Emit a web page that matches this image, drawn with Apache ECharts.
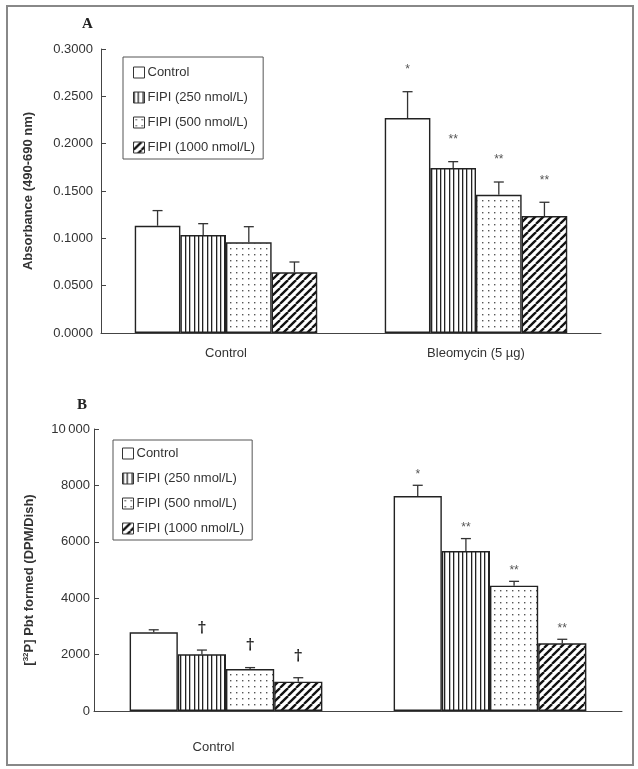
<!DOCTYPE html>
<html><head><meta charset="utf-8">
<style>html,body{margin:0;padding:0;background:#fff}#c{width:638px;height:769px}</style>
<script src="https://cdn.jsdelivr.net/npm/echarts@6/dist/echarts.min.js"></script>
</head><body><div id="c"></div>
<script>
// ---- data ----
const categories = ['Control', 'Bleomycin (5 µg)'];
const groups = ['Control', 'FIPI (250 nmol/L)', 'FIPI (500 nmol/L)', 'FIPI (1000 nmol/L)'];
// Panel A: absorbance, per group: [Control category, Bleomycin category]
const absMean = [[0.1133, 0.2271], [0.1035, 0.1743], [0.0958, 0.1460], [0.0641, 0.1236]];
const absErr  = [[0.0160, 0.0278], [0.0120, 0.0067], [0.0165, 0.0135], [0.0109, 0.0145]];
const absMark = [['', '*'], ['', '**'], ['', '**'], ['', '**']];
const absTicks = [0, 0.05, 0.10, 0.15, 0.20, 0.25, 0.30];
// Panel B: [32P] Pbt formed (DPM/Dish)
const pbtMean = [[2790, 7624], [2011, 5674], [1489, 4443], [1040, 2400]];
const pbtErr  = [[90, 380], [150, 440], [50, 155], [140, 143]];
const pbtMark = [['', '*'], ['†', '**'], ['†', '**'], ['†', '**']];
const pbtTicks = [0, 2000, 4000, 6000, 8000, 10000];

// ---- patterns ----
function tile(w, h, draw) {
  const c = document.createElement('canvas'); c.width = w; c.height = h;
  const ctx = c.getContext('2d'); ctx.fillStyle = '#fff'; ctx.fillRect(0, 0, w, h);
  draw(ctx); return c;
}
const patWhite = '#ffffff';
const patVert = tile(22, 4, ctx => {
  ctx.fillStyle = '#222';
  for (let i = 0; i < 5; i++) ctx.fillRect(Math.round(i * 4.4), 0, 1.3, 4);
});
const patDot = tile(6, 6, ctx => { ctx.fillStyle = '#555'; ctx.fillRect(2, 2, 1.4, 1.4); });
const patDiag = tile(8, 8, ctx => {
  ctx.strokeStyle = '#111'; ctx.lineWidth = 2.3;
  [[-8, 8, 0, 0], [0, 8, 8, 0], [8, 8, 16, 0]].forEach(l => {
    ctx.beginPath(); ctx.moveTo(l[0], l[1]); ctx.lineTo(l[2], l[3]); ctx.stroke();
  });
});
const fills = [patWhite, { image: patVert, repeat: 'repeat' }, { image: patDot, repeat: 'repeat' }, { image: patDiag, repeat: 'repeat' }];

const GAP = 0.27;
const font = "'Liberation Sans', Arial, sans-serif";

function errorSeries(gridIdx, k, means, errs, marks, opts) {
  return {
    type: 'custom', xAxisIndex: gridIdx, yAxisIndex: gridIdx, z: 5, silent: true,
    data: categories.map((c, i) => [i, means[k][i], errs[k][i]]),
    renderItem: function (params, api) {
      const x = api.value(0), m = api.value(1), e = api.value(2);
      const base = api.coord([x, m]);
      const top = api.coord([x, m + e]);
      const band = api.size([1, 0])[0];
      const bw = band * (1 - GAP) / 4;
      const cx = base[0] + (k - 1.5) * bw;
      const mark = marks[k][params.dataIndex];
      const ch = [
        { type: 'line', shape: { x1: cx, y1: base[1], x2: cx, y2: top[1] }, style: { stroke: '#333', lineWidth: 1.3 } },
        { type: 'line', shape: { x1: cx - opts.cap, y1: top[1], x2: cx + opts.cap, y2: top[1] }, style: { stroke: '#333', lineWidth: 1.3 } }
      ];
      if (mark) {
        const dag = mark === '†';
        ch.push({ type: 'text', style: {
          text: mark, x: cx, y: top[1] - (dag ? opts.dagOff : opts.starOff),
          align: 'center', verticalAlign: 'middle',
          font: dag ? "bold 15px 'DejaVu Serif', serif" : "12px " + font,
          fill: dag ? '#111' : '#555'
        } });
      }
      return { type: 'group', children: ch };
    }
  };
}

const series = [];
groups.forEach((g, k) => {
  series.push({ name: g, type: 'bar', xAxisIndex: 0, yAxisIndex: 0, barGap: '0%', barCategoryGap: (GAP * 100) + '%',
    data: absMean[k], itemStyle: { color: fills[k], borderColor: '#222', borderWidth: 1.4 }, silent: true });
});
groups.forEach((g, k) => {
  series.push({ name: g, type: 'bar', xAxisIndex: 1, yAxisIndex: 1, barGap: '0%', barCategoryGap: (GAP * 100) + '%',
    data: pbtMean[k], itemStyle: { color: fills[k], borderColor: '#222', borderWidth: 1.4 }, silent: true });
});
groups.forEach((g, k) => series.push(errorSeries(0, k, absMean, absErr, absMark, { cap: 5, starOff: 22, dagOff: 22 })));
groups.forEach((g, k) => series.push(errorSeries(1, k, pbtMean, pbtErr, pbtMark, { cap: 5, starOff: 11, dagOff: 22 })));

const axisLine = { show: true, lineStyle: { color: '#444', width: 1 } };
const legendBase = {
  orient: 'vertical', data: groups, selectedMode: false, icon: 'rect',
  itemWidth: 11, itemHeight: 11, itemGap: 12,
  borderColor: '#555', borderWidth: 1,
  textStyle: { fontFamily: font, fontSize: 13, color: '#333', padding: [0, 0, 0, -2] },
  itemStyle: { borderColor: '#333', borderWidth: 1 }
};

const chart = echarts.init(document.getElementById('c'), null, { renderer: 'canvas' });
chart.setOption({
  animation: false,
  backgroundColor: '#fff',
  grid: [
    { left: 101, top: 49, width: 500, height: 284 },
    { left: 94, top: 429, width: 528, height: 282 }
  ],
  xAxis: [
    { type: 'category', gridIndex: 0, data: categories, axisLine: axisLine, axisTick: { show: false },
      axisLabel: { margin: 14, fontFamily: font, fontSize: 13, color: '#333' } },
    { type: 'category', gridIndex: 1, data: categories, axisLine: axisLine, axisTick: { show: false },
      axisLabel: { margin: 30, fontFamily: font, fontSize: 13, color: '#333', padding: [0, 25, 0, 0],
        formatter: (v, i) => i === 0 ? v : '' } }
  ],
  yAxis: [
    { type: 'value', gridIndex: 0, min: absTicks[0], max: absTicks[absTicks.length - 1], interval: 0.05,
      splitLine: { show: false }, axisLine: axisLine,
      axisTick: { show: true, inside: true, length: 5, lineStyle: { color: '#444' } },
      axisLabel: { margin: 8, fontFamily: font, fontSize: 13, color: '#333', formatter: v => v.toFixed(4) },
      name: 'Absorbance (490-690 nm)', nameLocation: 'middle', nameGap: 66,
      nameTextStyle: { fontFamily: font, fontSize: 13, fontWeight: 'bold', color: '#333' } },
    { type: 'value', gridIndex: 1, min: pbtTicks[0], max: pbtTicks[pbtTicks.length - 1], interval: 2000,
      splitLine: { show: false }, axisLine: axisLine,
      axisTick: { show: true, inside: true, length: 5, lineStyle: { color: '#444' } },
      axisLabel: { margin: 4, fontFamily: font, fontSize: 13, color: '#333',
        formatter: v => v >= 10000 ? String(v).replace(/(\d{2})(\d{3})$/, '$1\u2009$2') : String(v) },
      name: '[{sup|32}P] Pbt formed (DPM/Dish)', nameLocation: 'middle', nameGap: 58,
      nameTextStyle: { fontFamily: font, fontSize: 13, fontWeight: 'bold', color: '#333', padding: [0, 20, 0, 0],
        rich: { sup: { fontSize: 8, fontFamily: font, fontWeight: 'bold', color: '#333', verticalAlign: 'top', padding: [0, 0, 6, 0] } } } }
  ],
  legend: [
    Object.assign({}, legendBase, { left: 123, top: 57, padding: [9, 8, 5, 10] }),
    Object.assign({}, legendBase, { left: 113, top: 440, padding: [7, 8, 5, 9] })
  ],
  graphic: [
    { type: 'rect', shape: { x: 7, y: 6, width: 626, height: 759 }, style: { fill: null, stroke: '#888', lineWidth: 2 }, silent: true },
    { type: 'text', left: 82, top: 17, style: { text: 'A', font: "bold 15px 'Liberation Serif', 'Times New Roman', serif", fill: '#222' } },
    { type: 'text', left: 77, top: 398, style: { text: 'B', font: "bold 15px 'Liberation Serif', 'Times New Roman', serif", fill: '#222' } }
  ],
  series: series
});
</script></body></html>
